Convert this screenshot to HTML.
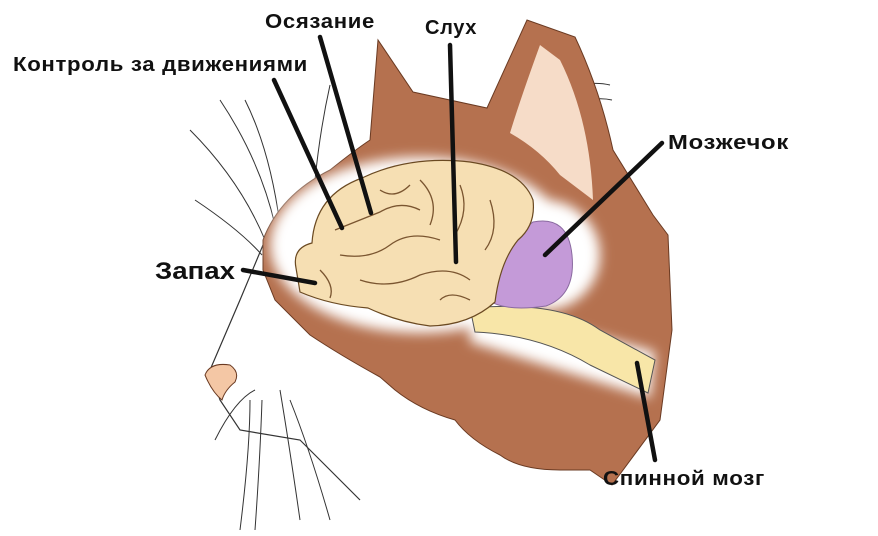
<!DOCTYPE html>
<html><head><meta charset="utf-8"><style>
body{margin:0;background:#fff;width:878px;height:536px;overflow:hidden}
svg{display:block}
text{font-family:"Liberation Sans",sans-serif;font-weight:bold;fill:#111}
</style></head><body>
<svg width="878" height="536" viewBox="0 0 878 536">
<defs>
<filter id="b" x="-20%" y="-20%" width="140%" height="140%"><feGaussianBlur stdDeviation="6"/></filter>
</defs>
<g stroke="#333" stroke-width="1" fill="none">
<path d="M220 100 Q260 160 275 225"/><path d="M245 100 Q270 150 280 225"/>
<path d="M190 130 Q240 180 265 240"/><path d="M195 200 Q240 230 262 255"/>
<path d="M330 85 Q320 130 315 180"/><path d="M215 440 Q235 400 255 390"/>
<path d="M240 530 Q250 450 250 400"/><path d="M255 530 Q260 460 262 400"/>
<path d="M300 520 Q290 450 280 390"/><path d="M330 520 Q310 450 290 400"/>
<path d="M560 90 Q590 80 610 85"/><path d="M560 110 Q590 95 612 100"/>
</g>
<path d="M263 245 L240 300 L210 370 L220 400 L240 430 L300 440 L330 470 L360 500" stroke="#333" fill="none" stroke-width="1.2"/>
<path d="M263 240 Q280 195 330 170 Q355 150 370 140 L378 40 L413 92 L487 108 L527 20 L575 37 Q600 90 613 150 L653 215 L668 235 L672 330 L660 420 L612 485 L590 470 L560 470 Q520 470 500 455 Q470 440 455 420 Q420 410 395 390 L380 377 Q340 355 310 335 L275 300 L263 270 Z" fill="#b5714f" stroke="#6a3a22" stroke-width="1"/>
<path d="M540 45 Q520 100 510 133 Q540 150 560 175 L593 200 Q590 120 560 60 Z" fill="#f6dcc8"/>
<g filter="url(#b)" fill="#fff">
<ellipse cx="420" cy="245" rx="150" ry="88"/>
<path d="M470 300 L655 352 L650 398 L470 342 Z"/>
<ellipse cx="545" cy="255" rx="55" ry="55"/>
</g>
<path d="M470 308 Q560 300 600 330 L655 360 L648 393 L590 365 Q540 335 475 332 Z" fill="#f8e6a8" stroke="#555" stroke-width="1"/>
<path d="M533 222 Q568 215 572 255 Q576 295 546 306 Q505 312 488 300 Q490 260 510 240 Z" fill="#c49ad8" stroke="#8a6aa0" stroke-width="1"/>
<path d="M296 268 Q292 248 312 243 Q315 195 362 178 Q410 155 470 162 Q522 170 533 200 Q536 225 518 240 Q500 262 495 302 Q470 325 430 326 Q398 322 368 308 Q330 305 300 292 Z" fill="#f6dfb3" stroke="#6b4a22" stroke-width="1.2"/>
<g stroke="#7a5530" stroke-width="1.3" fill="none">
<path d="M335 230 Q360 220 380 212 Q400 200 420 210"/>
<path d="M340 255 Q370 260 390 245 Q410 230 440 240"/>
<path d="M420 180 Q440 200 430 225"/><path d="M460 185 Q470 210 455 235"/>
<path d="M360 280 Q390 290 420 275 Q450 265 470 280"/>
<path d="M320 270 Q335 285 330 298"/><path d="M490 200 Q500 230 485 250"/>
<path d="M440 300 Q450 290 470 300"/><path d="M380 190 Q395 200 410 185"/>
</g>
<path d="M205 375 Q210 362 230 365 Q240 372 235 382 Q225 390 222 400 Q212 392 205 375 Z" fill="#f4c7a5" stroke="#6a3a22" stroke-width="1"/>
<g stroke="#111" stroke-width="4.5" stroke-linecap="round">
<line x1="320" y1="37" x2="371" y2="213"/>
<line x1="450" y1="45" x2="456" y2="262"/>
<line x1="274" y1="80" x2="342" y2="228"/>
<line x1="662" y1="143" x2="545" y2="255"/>
<line x1="243" y1="270" x2="315" y2="283"/>
<line x1="637" y1="363" x2="655" y2="460"/>
</g>
<g font-size="20" letter-spacing="0.6">
<text x="265" y="28" textLength="110" lengthAdjust="spacingAndGlyphs">Осязание</text>
<text x="425" y="34" textLength="52" lengthAdjust="spacingAndGlyphs">Слух</text>
<text x="13" y="71" textLength="295" lengthAdjust="spacingAndGlyphs">Контроль за движениями</text>
<text x="668" y="149" textLength="121" lengthAdjust="spacingAndGlyphs">Мозжечок</text>
<text x="603" y="485" textLength="162" lengthAdjust="spacingAndGlyphs">Спинной мозг</text>
</g>
<text x="155" y="279" font-size="24" textLength="80" lengthAdjust="spacingAndGlyphs">Запах</text>
</svg>
</body></html>
